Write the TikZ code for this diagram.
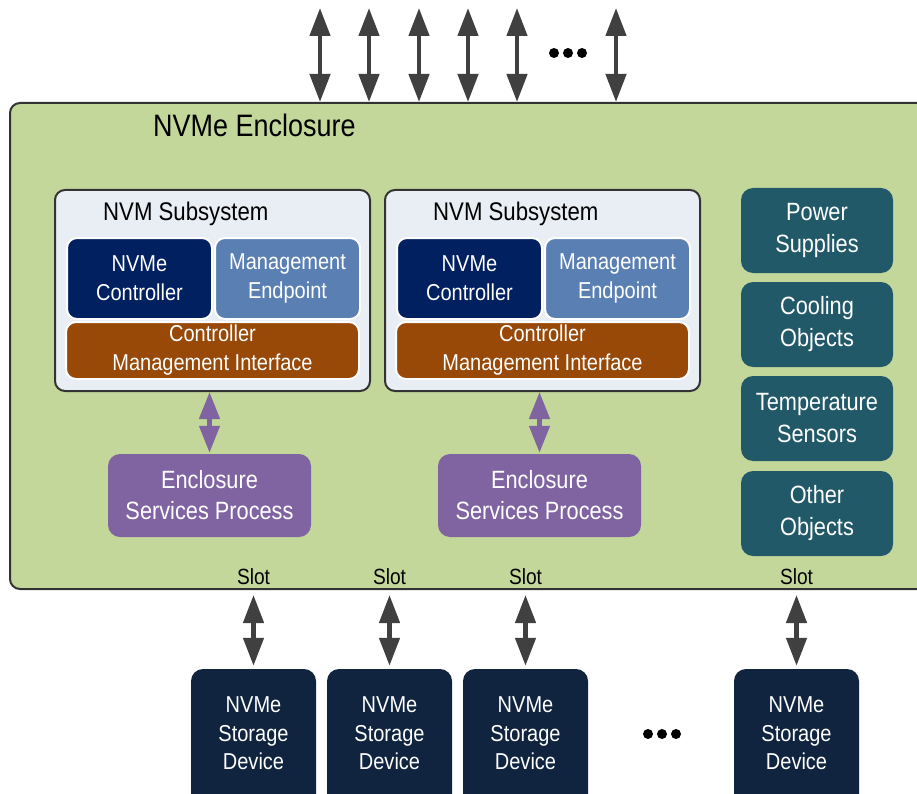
\documentclass[tikz,border=0pt]{standalone}
\usepackage{fontspec}
\setmainfont[FakeStretch=0.87]{Liberation Sans}
\usetikzlibrary{arrows.meta}
\definecolor{encgreen}{HTML}{C4D79B}
\definecolor{ssfill}{HTML}{E9EDF4}
\definecolor{edgegray}{HTML}{333333}
\definecolor{arrowgray}{HTML}{404040}
\definecolor{ctrlblue}{HTML}{002060}
\definecolor{mepblue}{HTML}{5A80B3}
\definecolor{cmiorange}{HTML}{984807}
\definecolor{esppurple}{HTML}{8064A2}
\definecolor{objteal}{HTML}{215968}
\definecolor{devnavy}{HTML}{10243F}
\newcommand\mybox[7]{\node[#2, minimum width={#5-#3}, minimum height={#6-#4}] (#1) at ({(#3+#5)/2},{(#4+#6)/2}) {#7};}
\begin{document}
\begin{tikzpicture}[x=1pt,y=-1pt,
  encbox/.style={draw=edgegray, fill=encgreen, line width=2pt, rounded corners=10pt, inner sep=0pt},
  ssbox/.style={draw=edgegray, fill=ssfill, line width=2pt, rounded corners=10pt, inner sep=0pt},
  inbox/.style={draw=white, line width=2pt, rounded corners=10pt, inner sep=0pt, align=center, text=white, font=\fontsize{23}{29}\selectfont},
  ctrl/.style={inbox, fill=ctrlblue},
  mep/.style={inbox, fill=mepblue},
  cmi/.style={inbox, fill=cmiorange},
  esp/.style={fill=esppurple, rounded corners=12pt, inner sep=0pt, align=center, text=white, font=\fontsize{25}{31}\selectfont},
  obj/.style={fill=objteal, rounded corners=12pt, inner sep=0pt, align=center, text=white, font=\fontsize{25}{32}\selectfont},
  dev/.style={fill=devnavy, rounded corners=12pt, inner sep=0pt},
  devtxt/.style={align=center, text=white, font=\fontsize{23}{28.5}\selectfont, inner sep=0pt},
  lbl/.style={inner sep=0pt, anchor=base west},
  slotlbl/.style={inner sep=0pt, anchor=base, font=\fontsize{22}{26}\selectfont},
  bigarrow/.style={draw=arrowgray, line width=4.5pt, {Triangle[length=28pt,width=20pt]}-{Triangle[length=28pt,width=20pt]}},
  purplearrow/.style={draw=esppurple, line width=4.5pt, {Triangle[length=27pt,width=20pt]}-{Triangle[length=27pt,width=20pt]}},
  dot/.style={fill=black, circle, inner sep=0pt, minimum size=10pt}
]
\useasboundingbox (0,0) rectangle (917,794);
\begin{scope}
\clip (0,0) rectangle (917,794);
% enclosure
\mybox{enc}{encbox}{10}{103}{950}{589}{}
\node[lbl, font=\fontsize{31}{36}\selectfont] (enctitle) at (153,137) {NVMe Enclosure};
% subsystems
\mybox{ss1}{ssbox}{55}{190}{370}{391}{}
\mybox{ss2}{ssbox}{385}{190}{700}{391}{}
\node[lbl, font=\fontsize{25.5}{30}\selectfont] (ss1t) at (103,221) {NVM Subsystem};
\node[lbl, font=\fontsize{25.5}{30}\selectfont] (ss2t) at (433,221) {NVM Subsystem};
\mybox{c1}{ctrl}{67}{238}{212}{319}{NVMe\\Controller}
\mybox{m1}{mep}{215}{238}{360}{319}{Management\\Endpoint}
\mybox{i1}{cmi}{66}{322}{359}{379}{Controller\\Management Interface}
\mybox{c2}{ctrl}{397}{238}{542}{319}{NVMe\\Controller}
\mybox{m2}{mep}{545}{238}{690}{319}{Management\\Endpoint}
\mybox{i2}{cmi}{396}{322}{689}{379}{Controller\\Management Interface}
% enclosure services process
\mybox{e1}{esp}{108}{454}{311}{537}{Enclosure\\Services Process}
\mybox{e2}{esp}{438}{454}{641}{537}{Enclosure\\Services Process}
\draw[purplearrow] (ss1.south -| e1.north) -- ([yshift=1pt]e1.north);
\draw[purplearrow] (ss2.south -| e2.north) -- ([yshift=1pt]e2.north);
% objects
\mybox{o1}{obj}{741}{188}{893}{273}{Power\\Supplies}
\mybox{o2}{obj}{741}{282}{893}{367}{Cooling\\Objects}
\mybox{o3}{obj}{741}{376}{893}{461}{Temperature\\Sensors}
\mybox{o4}{obj}{741}{471}{893}{556}{Other\\Objects}
% top arrows
\foreach \i/\x in {1/320,2/369,3/419,4/468,5/517,6/616}{
  \coordinate (t\i) at (\x,8);
  \draw[bigarrow] (t\i) -- (t\i |- enc.north);
}
\node[dot] (td1) at (554,53) {};
\node[dot] (td2) at (568,53) {};
\node[dot] (td3) at (582,53) {};
% storage devices
\mybox{d1}{dev}{191}{669}{316}{820}{}
\mybox{d2}{dev}{327}{669}{452}{820}{}
\mybox{d3}{dev}{463}{669}{588}{820}{}
\mybox{d4}{dev}{734}{669}{859}{820}{}
\foreach \i in {1,2,3,4}{
  \node[devtxt, anchor=base] (d\i t) at ([yshift=-101pt]d\i.north) {NVMe\\Storage\\Device};
  \node[slotlbl] (s\i) at ([yshift=6pt]d\i.north |- enc.south) {Slot};
  \draw[bigarrow] ([yshift=-5pt]d\i.north |- enc.south) -- ([yshift=3pt]d\i.north);
}
\node[dot] (bd1) at (648,734) {};
\node[dot] (bd2) at (662,734) {};
\node[dot] (bd3) at (676,734) {};
\end{scope}
\end{tikzpicture}
\end{document}
